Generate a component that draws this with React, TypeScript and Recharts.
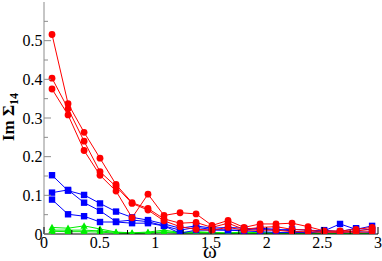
import React from "react";
import { LineChart, Line, XAxis, YAxis, Label } from "recharts";

const OMEGA = [0.072, 0.216, 0.36, 0.503, 0.647, 0.791, 0.934, 1.078, 1.222, 1.366, 1.509, 1.653, 1.797, 1.941, 2.084, 2.228, 2.372, 2.516, 2.659, 2.803, 2.947];

const RED_1 = [0.516, 0.337, 0.263, 0.196, 0.128, 0.081, 0.066, 0.039, 0.028, 0.030, 0.017, 0.028, 0.012, 0.017, 0.019, 0.012, 0.010, 0.006, 0.004, 0.008, 0.012];
const RED_2 = [0.403, 0.324, 0.240, 0.161, 0.123, 0.079, 0.062, 0.034, 0.019, 0.012, 0.010, 0.017, 0.010, 0.010, 0.010, 0.006, 0.006, 0.004, 0.006, 0.004, 0.006];
const RED_3 = [0.375, 0.308, 0.216, 0.152, 0.111, 0.042, 0.103, 0.048, 0.055, 0.052, 0.022, 0.035, 0.017, 0.026, 0.026, 0.028, 0.019, 0.008, 0.008, 0.012, 0.017];

const BLUE_1 = [0.152, 0.112, 0.101, 0.079, 0.058, 0.043, 0.036, 0.026, 0.015, 0.021, 0.015, 0.017, 0.015, 0.012, 0.010, 0.012, 0.010, 0.008, 0.026, 0.012, 0.021];
const BLUE_2 = [0.107, 0.114, 0.081, 0.060, 0.032, 0.036, 0.032, 0.021, 0.010, 0.017, 0.012, 0.010, 0.010, 0.015, 0.012, 0.008, 0.002, 0.010, 0.006, 0.015, 0.010];
const BLUE_3 = [0.089, 0.051, 0.046, 0.031, 0.031, 0.028, 0.028, 0.021, 0.002, 0.010, 0.010, 0.010, 0.008, 0.006, 0.004, 0.004, 0.004, 0.006, 0.004, 0.006, 0.004];

const GREEN_1 = [0.017, 0.015, 0.021, 0.013, 0.005, 0.003, 0.005, 0.010, 0.004, 0.006, 0.004, 0.003, 0.005, 0.003, 0.004, 0.002, 0.003, 0.002, 0.001, 0.002, 0.001];
const GREEN_2 = [0.010, 0.010, 0.010, 0.008, 0.004, 0.002, 0.003, 0.006, 0.003, 0.004, 0.003, 0.002, 0.003, 0.002, 0.002, 0.001, 0.002, 0.001, 0.001, 0.001, 0.001];
const GREEN_3 = [0.007, 0.006, 0.006, 0.005, 0.002, 0.001, 0.002, 0.004, 0.002, 0.002, 0.002, 0.001, 0.002, 0.001, 0.001, 0.001, 0.001, 0.001, 0.000, 0.001, 0.000];

const X_TICKS = [0, 0.25, 0.5, 0.75, 1, 1.25, 1.5, 1.75, 2, 2.25, 2.5, 2.75, 3];
const Y_TICKS = [0, 0.05, 0.1, 0.15, 0.2, 0.25, 0.3, 0.35, 0.4, 0.45, 0.5, 0.55];

const data = OMEGA.map((w, i) => ({
  w,
  r1: RED_1[i], r2: RED_2[i], r3: RED_3[i],
  b1: BLUE_1[i], b2: BLUE_2[i], b3: BLUE_3[i],
  g1: GREEN_1[i], g2: GREEN_2[i], g3: GREEN_3[i],
}));

const FONT = "Liberation Serif";
const RED = "#ff0000";
const BLUE = "#0000ff";
const GREEN = "#00ee00";
const GRAY = "#8c8c8c";

const isMajorX = (v: number) => Math.abs(v * 2 - Math.round(v * 2)) < 1e-6;
const isMajorY = (v: number) => Math.abs(v * 10 - Math.round(v * 10)) < 1e-6;
const fmt = (v: number) => (v === 0 ? "0" : String(Math.round(v * 100) / 100));

const BottomTick = (p: any) => {
  const v = p.payload.value;
  const major = isMajorX(v);
  return (
    <g>
      <line x1={p.x} x2={p.x} y1={p.y} y2={p.y - (major ? 7 : 4)} stroke="#000" strokeWidth={1} />
      {major && (
        <text x={p.x} y={p.y + 14} textAnchor="middle" fontFamily={FONT} fontSize={16} fill="#000">
          {fmt(v)}
        </text>
      )}
    </g>
  );
};

const TopTick = (p: any) => {
  const v = p.payload.value;
  const major = isMajorX(v);
  return <line x1={p.x} x2={p.x} y1={p.y} y2={p.y + (major ? 7 : 4)} stroke={GRAY} strokeWidth={1} />;
};

const LeftTick = (p: any) => {
  const v = p.payload.value;
  const major = isMajorY(v);
  return (
    <g>
      <line x1={p.x} x2={p.x + (major ? 7 : 4)} y1={p.y} y2={p.y} stroke={GRAY} strokeWidth={1} />
      {major && (
        <text x={p.x - 1.5} y={p.y + 5.5} textAnchor="end" fontFamily={FONT} fontSize={16} fill="#000">
          {fmt(v)}
        </text>
      )}
    </g>
  );
};

const RightTick = (p: any) => {
  const v = p.payload.value;
  const major = isMajorY(v);
  return <line x1={p.x} x2={p.x - (major ? 6 : 4)} y1={p.y} y2={p.y} stroke={GRAY} strokeWidth={1} />;
};

const CircleDot = (p: any) => {
  if (p.cx == null || p.cy == null) return <g key={`c-${p.dataKey}-${p.index}`} />;
  return <circle key={`c-${p.dataKey}-${p.index}`} cx={p.cx} cy={p.cy} r={3.4} fill={RED} />;
};

const SquareDot = (p: any) => {
  if (p.cx == null || p.cy == null) return <g key={`s-${p.dataKey}-${p.index}`} />;
  return <rect key={`s-${p.dataKey}-${p.index}`} x={p.cx - 3.2} y={p.cy - 3.2} width={6.4} height={6.4} fill={BLUE} />;
};

const TriDot = (p: any) => {
  if (p.cx == null || p.cy == null) return <g key={`t-${p.dataKey}-${p.index}`} />;
  const s = 3.6;
  const pts = `${p.cx},${p.cy - s} ${p.cx - s},${p.cy + s * 0.8} ${p.cx + s},${p.cy + s * 0.8}`;
  return <polygon key={`t-${p.dataKey}-${p.index}`} points={pts} fill={GREEN} />;
};

const XLabel = (props: any) => {
  const vb = props.viewBox;
  return (
    <text x={vb.x + vb.width / 2 - 1} y={vb.y + 24} textAnchor="middle" fontFamily={FONT} fontSize={21} fill="#000">
      ω
    </text>
  );
};

const YLabel = () => {
  const cx = 14;
  const cy = 117;
  return (
    <text
      x={cx}
      y={cy}
      transform={`rotate(-90 ${cx} ${cy})`}
      textAnchor="middle"
      fontFamily={FONT}
      fontSize={17}
      fontWeight="bold"
      fill="#000"
    >
      Im Σ<tspan fontSize={12} dy={4}>14</tspan>
    </text>
  );
};

export default function App() {
  return (
    <div style={{ position: "absolute", left: 0, top: 0, width: 382, height: 261, background: "#fff" }}>
      <LineChart width={382} height={261} data={data} margin={{ top: 2, right: 4, bottom: 0, left: 0 }}>
        <XAxis
          dataKey="w"
          type="number"
          domain={[0, 3]}
          ticks={X_TICKS}
          interval={0}
          height={27}
          tickSize={0}
          tickMargin={0}
          tickLine={false}
          axisLine={{ stroke: "#000", strokeWidth: 1 }}
          tick={<BottomTick />}
          allowDataOverflow
        >
          <Label content={<XLabel />} />
        </XAxis>
        <XAxis
          xAxisId="top"
          orientation="top"
          dataKey="w"
          type="number"
          domain={[0, 3]}
          ticks={X_TICKS}
          interval={0}
          height={0}
          tickSize={0}
          tickMargin={0}
          tickLine={false}
          axisLine={{ stroke: GRAY, strokeWidth: 1 }}
          tick={<TopTick />}
          allowDataOverflow
        />
        <YAxis
          type="number"
          domain={[0, 0.6]}
          ticks={Y_TICKS}
          interval={0}
          width={44}
          tickSize={0}
          tickMargin={0}
          tickLine={false}
          axisLine={{ stroke: GRAY, strokeWidth: 1 }}
          tick={<LeftTick />}
          allowDataOverflow
        >
          <Label content={<YLabel />} />
        </YAxis>
        <YAxis
          yAxisId="right"
          orientation="right"
          type="number"
          domain={[0, 0.6]}
          ticks={Y_TICKS}
          interval={0}
          width={0}
          tickSize={0}
          tickMargin={0}
          tickLine={false}
          axisLine={{ stroke: GRAY, strokeWidth: 2 }}
          tick={<RightTick />}
          allowDataOverflow
        />
        {["g3", "g2", "g1"].map((k) => (
          <Line key={k} dataKey={k} stroke={GREEN} strokeWidth={1} dot={TriDot} activeDot={false} isAnimationActive={false} type="linear" />
        ))}
        {["b3", "b2", "b1"].map((k) => (
          <Line key={k} dataKey={k} stroke={BLUE} strokeWidth={1} dot={SquareDot} activeDot={false} isAnimationActive={false} type="linear" />
        ))}
        {["r3", "r2", "r1"].map((k) => (
          <Line key={k} dataKey={k} stroke={RED} strokeWidth={1} dot={CircleDot} activeDot={false} isAnimationActive={false} type="linear" />
        ))}
      </LineChart>
    </div>
  );
}
